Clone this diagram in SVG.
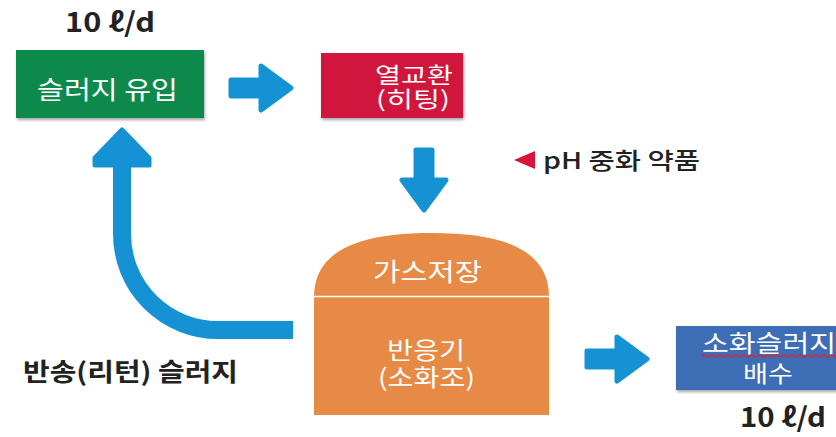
<svg xmlns="http://www.w3.org/2000/svg" width="836" height="437" viewBox="0 0 836 437">
<defs>
<style>
text{font-family:"Noto Sans CJK KR","Noto Sans",sans-serif;}
.w{fill:#fff;}
.d{fill:#222;font-weight:bold;}
.arr{fill:#1592D3;stroke:#1592D3;stroke-width:5;stroke-linejoin:round;}
</style>
<filter id="sh" x="-10%" y="-10%" width="130%" height="140%">
<feDropShadow dx="1" dy="2" stdDeviation="1.5" flood-color="#000" flood-opacity="0.35"/>
</filter>
<path id="ra" d="M0,-8 L30,-8 L30,-22 L60,0 L30,22 L30,8 L0,8 Z"/>
</defs>
<rect width="836" height="437" fill="#fff"/>

<g id="flow-top-left">
<text class="d" x="65" y="32" font-size="27" textLength="90" lengthAdjust="spacingAndGlyphs">10 ℓ/d</text>
</g>

<g id="inflow">
<rect x="16" y="50" width="188" height="68" fill="#0F8A4B" filter="url(#sh)"/>
<text class="w" x="37" y="99" font-size="25" textLength="141" lengthAdjust="spacingAndGlyphs">슬러지 유입</text>
</g>

<g id="heat-exchanger">
<rect x="321" y="53" width="142" height="65" fill="#D0193C" filter="url(#sh)"/>
<text class="w" x="375" y="83" font-size="22" textLength="78" lengthAdjust="spacingAndGlyphs">열교환</text>
<text class="w" x="376" y="107" font-size="22" textLength="74" lengthAdjust="spacingAndGlyphs">(히팅)</text>
</g>

<g id="ph-chemical">
<polygon points="514,160 535,151 535,169" fill="#D8163A"/>
<text x="543" y="169" font-size="23" fill="#222" font-weight="500" textLength="157" lengthAdjust="spacingAndGlyphs">pH 중화 약품</text>
</g>

<g id="digester">
<path d="M314,297 C314,250 360,233 432,233 C504,233 549,250 549,297 L549,415 L314,415 Z" fill="#E68A45"/>
<line x1="314" y1="296.5" x2="549" y2="296.5" stroke="#fff" stroke-width="1.5"/>
<text class="w" x="373" y="281" font-size="25" textLength="109" lengthAdjust="spacingAndGlyphs">가스저장</text>
<text class="w" x="387" y="359" font-size="24" textLength="78" lengthAdjust="spacingAndGlyphs">반응기</text>
<text class="w" x="378" y="386" font-size="24" textLength="97" lengthAdjust="spacingAndGlyphs">(소화조)</text>
</g>

<g id="return-label">
<text class="d" x="23" y="381" font-size="25" textLength="215" lengthAdjust="spacingAndGlyphs">반송(리턴) 슬러지</text>
</g>

<g id="discharge">
<rect x="676" y="326" width="170" height="64" fill="#3E6DB5" filter="url(#sh)"/>
<text class="w" x="702" y="352" font-size="24" textLength="134" lengthAdjust="spacingAndGlyphs">소화슬러지</text>
<path d="M702,356 q2,-2 4,0 t4,0 t4,0 t4,0 t4,0 t4,0 t4,0 t4,0 t4,0 t4,0 t4,0 t4,0 t4,0 t4,0 t4,0 t4,0 t4,0 t4,0 t4,0 t4,0 t4,0 t4,0 t4,0 t4,0 t4,0 t4,0 t4,0 t4,0 t4,0 t4,0 t4,0 t4,0 t4,0 t4,0" fill="none" stroke="#D0283A" stroke-width="1.2"/>
<text class="w" x="743" y="382" font-size="23" textLength="50" lengthAdjust="spacingAndGlyphs">배수</text>
</g>

<g id="flow-bottom-right">
<text class="d" x="740" y="427" font-size="27" textLength="86" lengthAdjust="spacingAndGlyphs">10 ℓ/d</text>
</g>

<g id="connectors">
<use href="#ra" class="arr" transform="translate(231,88)"/>
<use href="#ra" class="arr" transform="translate(424,150) rotate(90)"/>
<use href="#ra" class="arr" transform="translate(587,359)"/>
<path d="M293,330 L218,330 A96,96 0 0 1 122,234 L122,160" fill="none" stroke="#1592D3" stroke-width="18"/>
<polygon points="122,130 95,158 95,165 149,165 149,158" fill="#1592D3" stroke="#1592D3" stroke-width="5" stroke-linejoin="round"/>
</g>
</svg>
